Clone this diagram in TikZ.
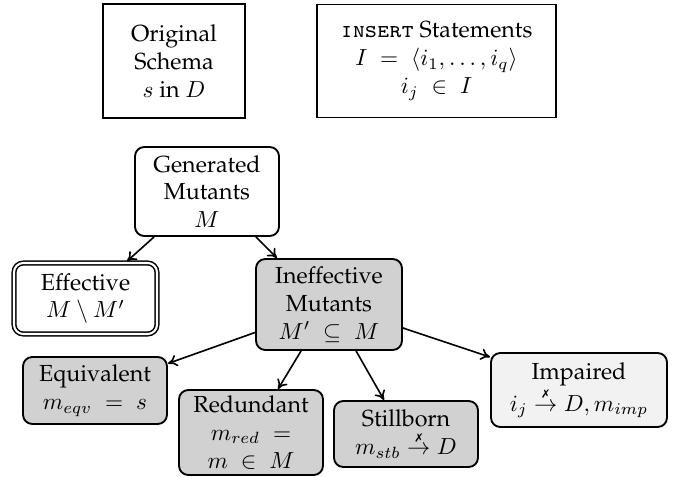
\documentclass[tikz,border=0pt]{standalone}
\usepackage[T1]{fontenc}
\usepackage{amsmath}
\usepackage{pifont}
\renewcommand{\rmdefault}{ppl}
\usetikzlibrary{calc,arrows.meta}
\newcommand{\notto}{\overset{\text{\tiny\ding{55}}}{\rightarrow}}
\newcommand{\insertkw}{{\fontencoding{OT1}\fontfamily{cmtt}\fontshape{sc}\selectfont insert}}
\begin{document}
\begin{tikzpicture}[x=0.43pt,y=-0.43pt,
  box/.style={draw, line width=0.8pt, align=center, inner sep=0pt},
  rbox/.style={box, rounded corners=4pt},
  grayfill/.style={fill=black!18},
  lightfill/.style={fill=black!5},
  arr/.style={-{To[length=4pt,width=5pt]}, line width=0.7pt}]
\useasboundingbox (0,0) rectangle (677,477);

\node[box, minimum width=142*0.43pt, minimum height=114*0.43pt] (orig) at (174,61)
  {Original\\Schema\\$s$ in $D$};
\node[box, minimum width=239*0.43pt, minimum height=113*0.43pt] (ins) at (436.5,61)
  {\insertkw{} Statements\\$I \;=\; \langle i_1, \ldots, i_q\rangle$\\$i_j \;\in\; I$};

\node[rbox, fill=white, minimum width=144*0.43pt, minimum height=89*0.43pt] (gen) at (207,191.5)
  {Generated\\Mutants\\$M$};
\node[rbox, double, double distance=0.9pt, line width=0.65pt, minimum width=143*0.43pt, minimum height=71*0.43pt] (eff) at (85.5,298.5)
  {Effective\\$M \setminus M'$};
\node[rbox, grayfill, minimum width=146*0.43pt, minimum height=91*0.43pt] (ine) at (329,304.5)
  {Ineffective\\Mutants\\$M' \;\subseteq\; M$};
\node[rbox, grayfill, minimum width=144*0.43pt, minimum height=67*0.43pt] (equ) at (95,390.5)
  {Equivalent\\$m_{eqv} \;=\; s$};
\node[rbox, grayfill, minimum width=144*0.43pt, minimum height=85*0.43pt] (red) at (251,432.5)
  {Redundant\\$m_{red} \;=$\\$m \;\in\; M$};
\node[rbox, grayfill, minimum width=144*0.43pt, minimum height=66*0.43pt] (sti) at (406,434)
  {Stillborn\\$m_{stb} \notto D$};
\node[rbox, lightfill, minimum width=176*0.43pt, minimum height=74*0.43pt] (imp) at (579,390)
  {Impaired\\$i_j \notto D, m_{imp}$};

\draw[arr] ($(gen.south west)+(20,0)$) -- ($(eff.north)+(41.5,-1)$);
\draw[arr] ($(gen.south east)+(-24,0)$) -- ($(ine.north west)+(22,0)$);
\draw[arr] ($(ine.west)+(0,28)$) -- ($(equ.east)+(0,-27)$);
\draw[arr] ($(ine.south west)+(46,0)$) -- ($(red.north)+(27,0)$);
\draw[arr] ($(ine.south west)+(101,0)$) -- ($(sti.north west)+(51,0)$);
\draw[arr] ($(ine.east)+(0,23.5)$) -- ($(imp.north west)+(0,5)$);
\end{tikzpicture}
\end{document}
